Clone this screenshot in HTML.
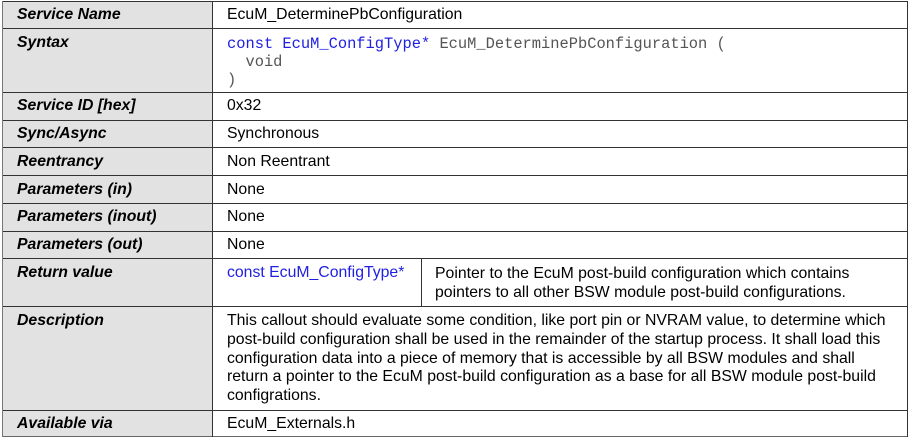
<!DOCTYPE html>
<html><head><meta charset="utf-8"><style>
body{margin:0;width:910px;height:440px;background:#fff;position:relative;overflow:hidden;font-family:"Liberation Sans",sans-serif;font-size:15.8px;color:#000}
.g{position:absolute;left:3px;width:209px;background:#e2e2e2}
.h{position:absolute;left:2px;width:906px;height:1px;background:#333}
.v{position:absolute;width:1px;background:#333}
.t{position:absolute;white-space:nowrap;line-height:18px}
.l{left:17px;font-weight:bold;font-style:italic}
.r{left:227px}
.m{font-family:"Liberation Mono",monospace;font-size:15.4px;color:#555}
.b{color:#2020e0}
</style></head><body>
<div class="g" style="top:1px;height:435px"></div>
<div class="h" style="top:1px"></div>
<div class="h" style="top:28px"></div>
<div class="h" style="top:92px"></div>
<div class="h" style="top:120px"></div>
<div class="h" style="top:147px"></div>
<div class="h" style="top:175px"></div>
<div class="h" style="top:203px"></div>
<div class="h" style="top:231px"></div>
<div class="h" style="top:258px"></div>
<div class="h" style="top:306px"></div>
<div class="h" style="top:410px"></div>
<div class="h" style="top:436px;background:#666"></div>
<div class="v" style="left:2px;top:1px;height:436px;background:#777"></div>
<div class="v" style="left:212px;top:1px;height:436px"></div>
<div class="v" style="left:907px;top:1px;height:436px"></div>
<div class="v" style="left:421px;top:258px;height:48px"></div>

<div class="t l" style="top:6px">Service Name</div>
<div class="t r" style="top:6px">EcuM_DeterminePbConfiguration</div>
<div class="t l" style="top:34px">Syntax</div>
<div class="t r m" style="top:35px"><span class="b">const EcuM_ConfigType*</span> EcuM_DeterminePbConfiguration (<br>&nbsp;&nbsp;void<br>)</div>
<div class="t l" style="top:97px">Service ID [hex]</div>
<div class="t r" style="top:97px">0x32</div>
<div class="t l" style="top:125px">Sync/Async</div>
<div class="t r" style="top:125px">Synchronous</div>
<div class="t l" style="top:153px">Reentrancy</div>
<div class="t r" style="top:153px">Non Reentrant</div>
<div class="t l" style="top:181px">Parameters (in)</div>
<div class="t r" style="top:181px">None</div>
<div class="t l" style="top:208px">Parameters (inout)</div>
<div class="t r" style="top:208px">None</div>
<div class="t l" style="top:236px">Parameters (out)</div>
<div class="t r" style="top:236px">None</div>
<div class="t l" style="top:264px">Return value</div>
<div class="t r b" style="top:264px">const EcuM_ConfigType*</div>
<div class="t" style="left:435px;top:264px;line-height:19px">Pointer to the EcuM post-build configuration which contains<br>pointers to all other BSW module post-build configurations.</div>
<div class="t l" style="top:312px">Description</div>
<div class="t r" style="top:312px;line-height:18.75px">This callout should evaluate some condition, like port pin or NVRAM value, to determine which<br>post-build configuration shall be used in the remainder of the startup process. It shall load this<br>configuration data into a piece of memory that is accessible by all BSW modules and shall<br>return a pointer to the EcuM post-build configuration as a base for all BSW module post-build<br>configrations.</div>
<div class="t l" style="top:415px">Available via</div>
<div class="t r" style="top:415px">EcuM_Externals.h</div>
</body></html>
